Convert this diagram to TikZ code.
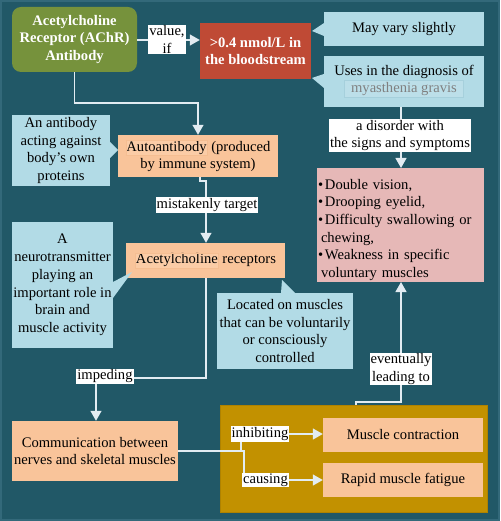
\documentclass[tikz,border=0pt]{standalone}
\usepackage{fontspec}
\setmainfont{Liberation Serif}
\usetikzlibrary{arrows.meta,calc}
\definecolor{bgc}{HTML}{215867}
\definecolor{bgborder}{HTML}{33697A}
\definecolor{greenc}{HTML}{76923C}
\definecolor{redc}{HTML}{BF4A35}
\definecolor{callc}{HTML}{B2DBE6}
\definecolor{peachc}{HTML}{F9C49A}
\definecolor{pinkc}{HTML}{E6B8B7}
\definecolor{goldc}{HTML}{C29100}
\definecolor{linec}{HTML}{E2ECF2}
\definecolor{hlpeach}{HTML}{FBCCA6}
\definecolor{hlpeachb}{HTML}{F5BE92}
\definecolor{hlblue}{HTML}{BCDFE9}
\definecolor{hlblueb}{HTML}{A6D0DC}
\newcommand{\hlp}[1]{{\setlength\fboxsep{0.5pt}\setlength\fboxrule{0.4pt}\fcolorbox{hlpeachb}{hlpeach}{#1}}}
\newcommand{\hlb}[1]{{\setlength\fboxsep{1.5pt}\setlength\fboxrule{0.4pt}\fcolorbox{hlblueb}{hlblue}{\hspace{5pt}\color{gray}#1\hspace{5pt}}}}
\newcommand{\bul}{\makebox[7pt][l]{\textbullet}}
\begin{document}
\begin{tikzpicture}[x=1pt,y=-1pt,
  every node/.style={font=\fontsize{14.6}{17.7}\selectfont},
  box/.style={rectangle, inner sep=1pt, align=center, text=black},
  peachbox/.style={box, fill=peachc},
  callout/.style={box, fill=callc},
  lbl/.style={fill=white, inner sep=1pt, align=center, text=black},
  conn/.style={draw=linec, line width=1.3pt},
  arr/.style={conn, -{Triangle[length=10pt,width=11pt,fill=linec]}}
]
\useasboundingbox (0,0) rectangle (500,521);
\fill[bgc] (0,0) rectangle (500,521);
\draw[bgborder, line width=2pt] (1,1) rectangle (499,520);

% gold container
\node[fill=goldc, draw=goldc!90!black, line width=0.6pt, minimum width=267pt, minimum height=107pt, inner sep=0pt] (gold) at (353.5,458.5) {};

% main nodes
\node[box, fill=greenc, rounded corners=9pt, text=white, font=\fontsize{14.6}{17.7}\selectfont\bfseries, minimum width=125pt, minimum height=65pt] (achr) at (74.5,39.5) {Acetylcholine\\Receptor (AChR)\\Antibody};
\node[box, fill=redc, text=white, font=\fontsize{14.6}{17.7}\selectfont\bfseries, minimum width=111pt, minimum height=56pt] (red) at (255.5,51) {>0.4 nmol/L in\\the bloodstream};
\node[callout, minimum width=160pt, minimum height=34pt] (vary) at (404,29) {May vary slightly};
\node[callout, minimum width=160pt, minimum height=51pt] (uses) at (404,81.5) {Uses in the diagnosis of\\[-1pt]\hlb{myasthenia gravis}};
\node[box, fill=pinkc, align=left, text width=165pt, minimum height=106pt, inner sep=1pt] (bullets) at (400.5,225) {%
\rule{0pt}{20pt}\bul Double vision,\\
\bul Drooping eyelid,\\
\bul Difficulty swallowing or\\
\hspace{3pt}chewing,\\
\bul Weakness in specific\\
\hspace{3pt}voluntary muscles};
\node[peachbox, minimum width=160pt, minimum height=42pt] (auto) at (198,156) {\hlp{Autoantibody} (produced\\by immune system)};
\node[callout, minimum width=98pt, minimum height=71pt] (antib) at (61,150.5) {An antibody\\acting against\\body's own\\proteins};
\node[peachbox, minimum width=159pt, minimum height=35pt] (recep) at (205.5,260.5) {\hlp{Acetylcholine} receptors};
\node[callout, minimum width=101pt, minimum height=126pt] (neuro) at (62.5,285) {A\\neurotransmitter\\playing an\\important role in\\brain and\\muscle activity};
\node[callout, minimum width=136pt, minimum height=76pt] (located) at (285,331) {Located on muscles\\that can be voluntarily\\or consciously\\controlled};
\node[peachbox, minimum width=166pt, minimum height=60pt] (comm) at (95,451) {Communication between\\nerves and skeletal muscles};
\node[peachbox, minimum width=160pt, minimum height=34pt] (musc) at (403,435) {Muscle contraction};
\node[peachbox, minimum width=160pt, minimum height=34pt] (rapid) at (403,480) {Rapid muscle fatigue};

% callout pointers
\fill[callc] (324,23) -- (312,31) -- (324,36) -- cycle;
\fill[callc] (324,74) -- (312,78) -- (324,88) -- cycle;
\fill[callc] (110,142) -- (118,150) -- (110,158) -- cycle;
\fill[callc] (113,282) -- (132,272) -- (113,298) -- cycle;
\fill[callc] (281,293) -- (282,280) -- (295,293) -- cycle;

% connectors
\draw[arr] (achr.east |- 0,40) -- (red.west |- 0,40);
\draw[arr] (achr.south) -- (74.5,103) -- (198,103) -- (auto.north);
\draw[arr] (uses.south -| 401,0) -- (bullets.north -| 401,0);
\draw[arr] (auto.south -| 200,0) -- (200,181) -- (206,181) -- (recep.north -| 206,0);
\draw[arr] (recep.south -| 206,0) -- (206,378) -- (96,378) -- (comm.north -| 96,0);
\coordinate (split) at (241,451);
\draw[conn] (comm.east |- split) -- (split) -- (241,436);
\draw[conn] (split) -- (244,451) -- (244,478);
\draw[arr] (289,434) -- (musc.west |- 0,434);
\draw[arr] (288,480) -- (rapid.west |- 0,480);
\draw[arr] (gold.north -| 356,0) -- (356,402) -- (401,402) -- (bullets.south -| 401,0);

% labels
\node[lbl] (valueif) at (167,39.5) {value,\\if};
\node[lbl] (disorder) at (400,135.5) {a disorder with\\the signs and symptoms};
\node[lbl] (mistak) at (207,205) {mistakenly target};
\node[lbl] (impeding) at (105,376.5) {impeding};
\node[lbl] (eventually) at (401,369) {eventually\\leading to};
\node[lbl] (inhibiting) at (260,434) {inhibiting};
\node[lbl] (causing) at (265.5,480) {causing};
\end{tikzpicture}
\end{document}
